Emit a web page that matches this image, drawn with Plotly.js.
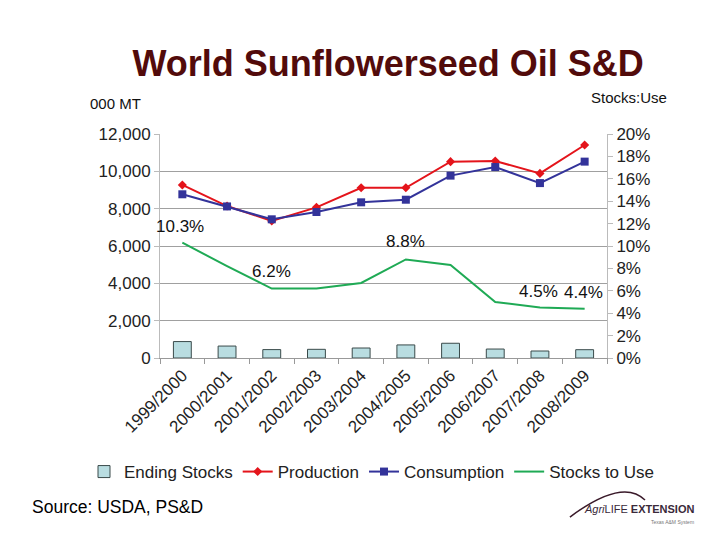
<!DOCTYPE html>
<html>
<head>
<meta charset="utf-8">
<script src="https://cdn.plot.ly/plotly-3.0.1.min.js"></script>
<style>html,body{margin:0;padding:0;background:#fff;}#chart{width:720px;height:540px;}</style>
</head>
<body>
<div id="chart"></div>
<script>
const years = ["1999/2000","2000/2001","2001/2002","2002/2003","2003/2004","2004/2005","2005/2006","2006/2007","2007/2008","2008/2009"];
const endingStocks = [880, 640, 450, 465, 535, 700, 790, 480, 375, 445];
const production = [9270, 8140, 7340, 8070, 9120, 9120, 10520, 10550, 9890, 11410];
const consumption = [8770, 8120, 7430, 7820, 8340, 8480, 9770, 10230, 9370, 10520];
const stocksToUse = [10.3, 8.2, 6.2, 6.2, 6.7, 8.8, 8.3, 5.0, 4.5, 4.4];
const labelIdx = [0, 2, 5, 8, 9];

const font = "Liberation Sans, Arial, sans-serif";
const traces = [
  {type:"bar", name:"Ending Stocks", x:years, y:endingStocks,
   marker:{color:"#b9dde1", line:{color:"#3a4a4a", width:1}}, yaxis:"y"},
  {type:"scatter", mode:"lines+markers", name:"Production", x:years, y:production,
   line:{color:"#e4141b", width:2}, marker:{symbol:"diamond", size:7, color:"#e4141b"}, yaxis:"y"},
  {type:"scatter", mode:"lines+markers", name:"Consumption", x:years, y:consumption,
   line:{color:"#33339a", width:2}, marker:{symbol:"square", size:8, color:"#33339a"}, yaxis:"y"},
  {type:"scatter", mode:"lines", name:"Stocks to Use", x:years, y:stocksToUse,
   line:{color:"#1faa55", width:2}, yaxis:"y2"}
];

const labelShift = {0:[-2,16], 2:[0,17], 5:[0,18], 8:[-1,16], 9:[-1,16]};
const annotations = labelIdx.map(i => ({
  x: years[i], y: stocksToUse[i], xref:"x", yref:"y2", showarrow:false,
  text: stocksToUse[i].toFixed(1) + "%", font:{family:font, size:17, color:"#111"},
  xshift: labelShift[i][0], yshift: labelShift[i][1]
}));
annotations.push(
  {xref:"paper", yref:"paper", x:-0.161, y:1.138, xanchor:"left", yanchor:"middle", showarrow:false,
   text:"000 MT", font:{family:font, size:15, color:"#111"}},
  {xref:"paper", yref:"paper", x:0.96, y:1.165, xanchor:"left", yanchor:"middle", showarrow:false,
   text:"Stocks:Use", font:{family:font, size:15, color:"#111"}},
  {xref:"paper", yref:"paper", x:-0.29, y:-0.665, xanchor:"left", yanchor:"middle", showarrow:false,
   text:"Source: USDA, PS&D", font:{family:font, size:17.5, color:"#000"}},
  {xref:"paper", yref:"paper", x:1.2, y:-0.674, xanchor:"right", yanchor:"middle", showarrow:false,
   text:"<i>Agri</i>LIFE <b>EXTENSION</b>", font:{family:font, size:11, color:"#3a2a3a"}},
  {xref:"paper", yref:"paper", x:1.2, y:-0.73, xanchor:"right", yanchor:"middle", showarrow:false,
   text:"Texas A&M System", font:{family:font, size:5, color:"#777"}}
);

const layout = {
  width:720, height:540,
  margin:{l:160, r:113, t:134, b:182},
  paper_bgcolor:"#fff", plot_bgcolor:"#fff",
  font:{family:font, size:17, color:"#222"},
  title:{text:"<b>World Sunflowerseed Oil S&D</b>", font:{family:font, size:36, color:"#520b0b"},
         x:0.539, xanchor:"center", y:0.883, yanchor:"middle"},
  showlegend:true,
  legend:{orientation:"h", x:-0.17, xanchor:"left", y:-0.509, yanchor:"middle",
          font:{family:font, size:17, color:"#222"}, itemwidth:30, tracegroupgap:0, traceorder:"normal"},
  bargap:0.6,
  xaxis:{type:"category", range:[-0.5, 9.5], autorange:false, tickangle:-45, tickson:"boundaries",
         ticks:"outside", ticklen:5,
         tickcolor:"#999", showline:true, linecolor:"#999", linewidth:1, showgrid:false,
         tickfont:{family:font, size:17, color:"#222"}},
  yaxis:{range:[0,12000], dtick:2000, tickformat:",", showgrid:true, gridcolor:"#a0a0a0", gridwidth:1,
         showline:true, linecolor:"#bbb", ticks:"outside", ticklen:5, tickcolor:"#bbb",
         tickfont:{family:font, size:17, color:"#222"}, zeroline:false},
  yaxis2:{range:[0,20], dtick:2, ticksuffix:"%", overlaying:"y", side:"right", showgrid:false,
          showline:true, linecolor:"#bbb", ticks:"outside", ticklen:5, tickcolor:"#bbb",
          tickfont:{family:font, size:17, color:"#222"}, zeroline:false},
  annotations: annotations,
  shapes:[
    {type:"path", xref:"paper", yref:"paper",
     path:"M 0.917 -0.71 Q 1.035 -0.534 1.085 -0.634", line:{color:"#3a1a2a", width:1.5}}
  ]
};

Plotly.newPlot("chart", traces, layout, {displayModeBar:false});
</script>
</body>
</html>
